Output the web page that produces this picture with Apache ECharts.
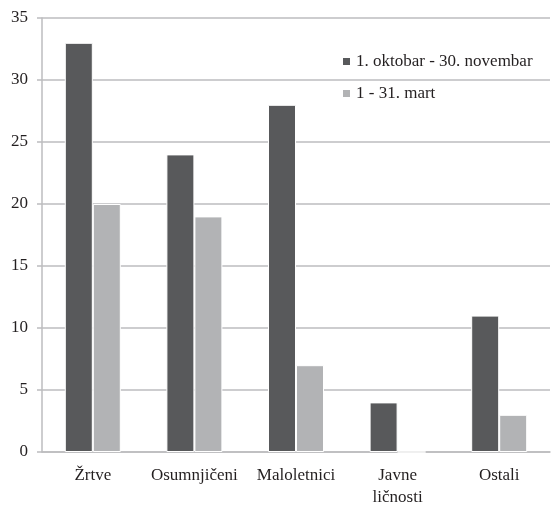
<!DOCTYPE html>
<html>
<head>
<meta charset="utf-8">
<script src="https://cdn.jsdelivr.net/npm/echarts@6/dist/echarts.min.js"></script>
<style>
html,body{margin:0;padding:0;background:#fff;}
#c{width:555px;height:509px;}
</style>
</head>
<body>
<div id="c"></div>
<script>
var categories = ['Žrtve', 'Osumnjičeni', 'Maloletnici', 'Javne\nličnosti', 'Ostali'];
var seriesNames = ['1. oktobar - 30. novembar', '1 - 31. mart'];
var seriesA = [33, 24, 28, 4, 11];
var seriesB = [20, 19, 7, 0, 3];
var yTicks = [0, 5, 10, 15, 20, 25, 30, 35];

var font = '"Liberation Serif", "Times New Roman", "DejaVu Serif", serif';
var chart = echarts.init(document.getElementById('c'), null, {renderer: 'canvas'});
chart.setOption({
  animation: false,
  backgroundColor: '#fff',
  textStyle: {fontFamily: font},
  grid: {left: 42, right: 5, top: 18, bottom: 50, containLabel: false},
  legend: {
    orient: 'vertical',
    left: 336, top: 48,
    itemWidth: 9, itemHeight: 9, itemGap: 15,
    icon: 'rect',
    textStyle: {fontFamily: font, fontSize: 17, color: '#231f20'},
    data: seriesNames
  },
  xAxis: {
    type: 'category',
    data: categories,
    axisLine: {lineStyle: {color: '#bcbcbf', width: 1.5}},
    axisTick: {length: 5, lineStyle: {color: '#bcbcbf', width: 1.5}},
    axisLabel: {fontFamily: font, fontSize: 17, color: '#231f20', margin: 13, lineHeight: 22, interval: 0}
  },
  yAxis: {
    type: 'value',
    min: yTicks[0], max: yTicks[yTicks.length-1], interval: 5,
    axisLine: {show: true, lineStyle: {color: '#bcbcbf', width: 1.5}},
    axisTick: {show: true, length: 5, lineStyle: {color: '#bcbcbf', width: 1.5}},
    splitLine: {lineStyle: {color: '#bcbcbf', width: 1.5}},
    axisLabel: {fontFamily: font, fontSize: 17, color: '#231f20', margin: 14}
  },
  series: [
    {name: seriesNames[0], type: 'bar', data: seriesA, barWidth: 28, barGap: '0%',
     itemStyle: {color: '#58595b', borderColor: '#fff', borderWidth: 1}},
    {name: seriesNames[1], type: 'bar', data: seriesB, barWidth: 28,
     itemStyle: {color: '#b2b3b5', borderColor: '#fff', borderWidth: 1}}
  ]
});
</script>
</body>
</html>
